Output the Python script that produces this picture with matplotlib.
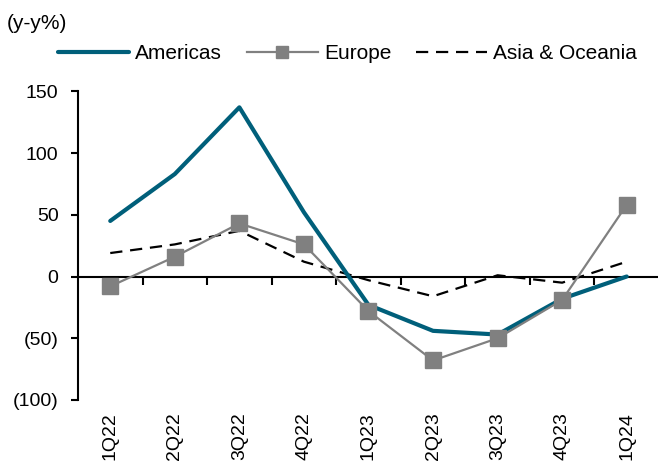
import matplotlib
matplotlib.use("Agg")
import matplotlib.pyplot as plt
from matplotlib.lines import Line2D
from matplotlib.ticker import FuncFormatter, FixedLocator

plt.rcParams['font.family'] = ['Liberation Sans', 'DejaVu Sans']

quarters = ["1Q22", "2Q22", "3Q22", "4Q22", "1Q23", "2Q23", "3Q23", "4Q23", "1Q24"]
americas = [45, 83, 137, 52, -23, -44, -47, -18, 0]
europe = [-8, 16, 43, 26, -28, -68, -50, -19, 58]
asia_oceania = [19, 26, 37, 12, -3, -16, 1, -5, 12]

teal = "#005f7a"
grey = "#808080"
dash_pattern = (5.5, 3.5)

fig = plt.figure(figsize=(6.58, 4.65), dpi=100)
ax = fig.add_axes([0.1185, 0.1398, 0.8830, 0.6639])

x = list(range(len(quarters)))
ax.plot(x, americas, color=teal, lw=3.0, solid_capstyle="round", zorder=3)
ax.plot(x, europe, color=grey, lw=1.6, marker="s", markersize=11.5,
        markerfacecolor=grey, markeredgecolor=grey, zorder=4)
ax.plot(x, asia_oceania, color="black", lw=1.6, dashes=dash_pattern, zorder=2)

ax.set_xlim(-0.5, len(quarters) - 0.5)
ax.set_ylim(-100, 150)
ax.set_yticks([-100, -50, 0, 50, 100, 150])
ax.yaxis.set_major_formatter(FuncFormatter(lambda v, p: f"({abs(int(v))})" if v < 0 else f"{int(v)}"))

for s in ["top", "right", "bottom"]:
    ax.spines[s].set_visible(False)
ax.spines["left"].set_linewidth(1.5)
ax.tick_params(axis="y", direction="out", length=5, width=1.5, labelsize=14, pad=9)

ax.set_xticks(x)
ax.set_xticklabels(quarters, rotation=90, fontsize=14)
ax.tick_params(axis="x", length=0, pad=9)

# zero line with tick marks between categories
zero_axis = ax.secondary_xaxis(100 / 250)
zero_axis.spines["bottom"].set_linewidth(1.5)
zero_axis.xaxis.set_major_locator(FixedLocator([i + 0.5 for i in range(len(quarters) - 1)]))
zero_axis.tick_params(axis="x", direction="out", length=6, width=1.5, labelbottom=False)

fig.text(0.010, 0.950, "(y-y%)", fontsize=15, va="center", ha="left")

handles = [
    Line2D([], [], color=teal, lw=3.0, solid_capstyle="round"),
    Line2D([], [], color=grey, lw=1.6, marker="s", markersize=8,
           markerfacecolor=grey, markeredgecolor=grey),
    Line2D([], [], color="black", lw=1.6, dashes=dash_pattern),
]
fig.legend(handles, ["Americas", "Europe", "Asia & Oceania"],
           loc="center", bbox_to_anchor=(0.528, 0.884), ncol=3, frameon=False,
           fontsize=15, handlelength=3.4, handletextpad=0.3, columnspacing=1.2,
           borderaxespad=0, borderpad=0)

fig.savefig("out.png", dpi=100)
